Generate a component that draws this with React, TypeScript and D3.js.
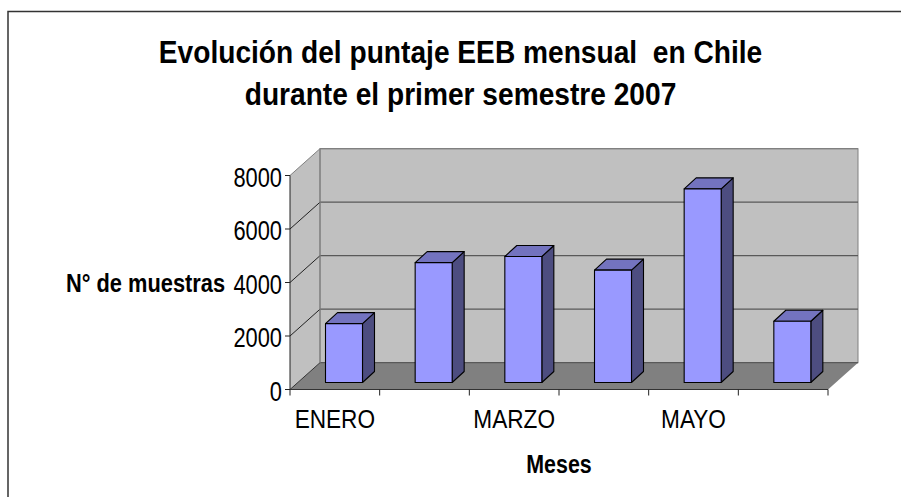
import * as d3 from 'd3';

const months = ['ENERO', 'FEBRERO', 'MARZO', 'ABRIL', 'MAYO', 'JUNIO'];
const muestras = [2200, 4480, 4710, 4200, 7240, 2290];
const monthLabels = ['ENERO', 'MARZO', 'MAYO'];
const yTicks = [0, 2000, 4000, 6000, 8000];
const titleLines = ['Evolución del puntaje EEB mensual  en Chile', 'durante el primer semestre 2007'];

const FONT = '"Liberation Sans", Arial, sans-serif';

// text in the source is a bit condensed, so squeeze it sideways
function Squeezed({ x, y, sx, anchor = 'middle', size, bold, children }: any) {
  return (
    <text
      transform={`translate(${x},${y}) scale(${sx},1)`}
      textAnchor={anchor}
      fontSize={size}
      fontWeight={bold ? 'bold' : 'normal'}
      style={{ whiteSpace: 'pre' }}
    >
      {children}
    </text>
  );
}

export default function App() {
  // front plane of the 3d box, depth goes up and to the right
  const x = d3.scaleBand().domain(months).range([290, 828]);
  const y = d3.scaleLinear().domain([0, 8000]).range([389.5, 175.5]);
  const depthX = 30;
  const depthY = 26.8;

  const barW = 37;
  const barDx = 35.5; // bar left edge inside the band
  const barLift = 7; // bar bottom above the front floor edge
  const sideX = 12;
  const sideY = 11;

  const x0 = x.range()[0];
  const x1 = x.range()[1];
  const y0 = y(0);
  const yTop = y(8000);

  const poly = (pts: number[][]) => pts.map((p) => p.join(',')).join(' ');

  return (
    <div style={{ position: 'absolute', left: 0, top: 0 }}>
      <svg width={901} height={497} style={{ display: 'block', fontFamily: FONT }}>
        <rect width={901} height={497} fill="#fff" />
        <path d="M8,497V11.5H901" fill="none" stroke="#333" strokeWidth={1.5} />

        {titleLines.map((t, i) => (
          <Squeezed key={i} x={460.5} y={62.5 + i * 42.5} sx={0.908} size={31} bold>
            {t}
          </Squeezed>
        ))}

        {/* walls and floor */}
        <polygon
          points={poly([[x0, y0], [x0, yTop], [x0 + depthX, yTop - depthY], [x0 + depthX, y0 - depthY]])}
          fill="#c0c0c0"
        />
        <rect x={x0 + depthX} y={yTop - depthY} width={x1 - x0} height={y0 - yTop} fill="#c0c0c0" stroke="#808080" strokeWidth={1} />
        <polygon
          points={poly([[x0, y0], [x0 + depthX, y0 - depthY], [x1 + depthX, y0 - depthY], [x1, y0]])}
          fill="#808080"
        />

        {/* gridlines */}
        {yTicks.map((t) => (
          <g key={t} fill="none">
            <line x1={x0 + depthX} x2={x1 + depthX} y1={y(t) - depthY} y2={y(t) - depthY} stroke={t === 8000 ? '#808080' : '#595959'} strokeWidth={1.2} />
            <line x1={x0} x2={x0 + depthX} y1={y(t)} y2={y(t) - depthY} stroke={t === 0 ? '#333' : t === 8000 ? '#808080' : '#222'} strokeWidth={1} />
          </g>
        ))}
        <line x1={x0} x2={x0} y1={y0} y2={yTop} stroke="#222" />
        <line x1={x0 + depthX} x2={x0 + depthX} y1={yTop - depthY} y2={y0 - depthY} stroke="#808080" strokeWidth={1.2} />
        <line x1={x0} x2={x1} y1={y0} y2={y0} stroke="#333" strokeWidth={1.2} />

        {/* bars */}
        {months.map((m, i) => {
          const left = (x(m) as number) + barDx;
          const right = left + barW;
          const bottom = y0 - barLift;
          const top = y(muestras[i]) - barLift;
          return (
            <g key={m} stroke="#000" strokeWidth={1.1} strokeLinejoin="round">
              <polygon
                points={poly([[right, top], [right + sideX, top - sideY], [right + sideX, bottom - sideY], [right, bottom]])}
                fill="#4d4d80"
              />
              <polygon
                points={poly([[left, top], [left + sideX, top - sideY], [right + sideX, top - sideY], [right, top]])}
                fill="#7373bf"
              />
              <rect x={left} y={top} width={barW} height={bottom - top} fill="#9999ff" />
            </g>
          );
        })}

        {/* axis ticks */}
        {yTicks.map((t) => (
          <g key={t}>
            <line x1={x0 - 5} x2={x0} y1={y(t)} y2={y(t)} stroke="#222" />
            <Squeezed x={x0 - 8} y={y(t) + 11} sx={0.81} anchor="end" size={27}>{d3.format('d')(t)}</Squeezed>
          </g>
        ))}
        {[...months.map((m) => x(m) as number), x1].map((tx) => (
          <line key={tx} x1={tx} x2={tx} y1={y0} y2={y0 + 6} stroke="#222" />
        ))}
        {monthLabels.map((m) => (
          <Squeezed key={m} x={(x(m) as number) + x.bandwidth() / 2} y={428} sx={0.87} size={26}>{m}</Squeezed>
        ))}

        <Squeezed x={145.5} y={292} sx={0.84} size={26} bold>N° de muestras</Squeezed>
        <Squeezed x={559} y={473} sx={0.84} size={25.5} bold>Meses</Squeezed>
      </svg>
    </div>
  );
}
